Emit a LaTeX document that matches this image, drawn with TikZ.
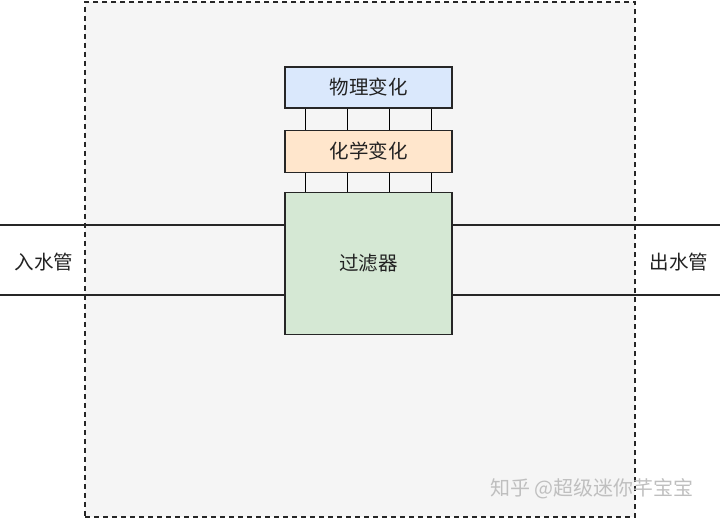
\documentclass[tikz,border=0pt]{standalone}
\usepackage{fontspec}
\setmainfont{Noto Sans CJK SC}
\usetikzlibrary{calc,positioning}

\definecolor{framefill}{HTML}{F5F5F5}
\definecolor{physfill}{HTML}{DAE8FC}
\definecolor{chemfill}{HTML}{FFE6CC}
\definecolor{filtfill}{HTML}{D5E8D4}
\definecolor{inktext}{HTML}{222222}

\begin{document}
\begin{tikzpicture}[
    x=1pt, y=1pt,
    line width=1.3pt,
    box/.style={draw=black!85, fill=#1, minimum width=167pt, inner sep=0pt, font=\fontsize{19.5}{22}\selectfont, text=inktext},
    pipe/.style={draw=black!85},
    label/.style={font=\fontsize{19.5}{22}\selectfont, text=inktext}
  ]
    \useasboundingbox (0,0) rectangle (720,-519);

    % Dashed enclosure
    \node[draw=black!85, dashed, dash pattern=on 5pt off 4pt, fill=framefill,
          minimum width=550pt, minimum height=515pt] (frame) at (360,-259.5) {};

    % Stacked layers
    \node[box=physfill, minimum height=41pt] (phys) at (368.5,-87.5) {物理变化};
    \node[box=chemfill, minimum height=42pt, below=21pt of phys] (chem) {化学变化};
    \node[box=filtfill, minimum height=142pt, below=19pt of chem] (filt) {过滤器};

    % Ties between layers
    \foreach \f in {0.125,0.375,0.625,0.875} {
      \draw ($(phys.south west)!\f!(phys.south east)$) -- ($(chem.north west)!\f!(chem.north east)$);
      \draw ($(chem.south west)!\f!(chem.north east |- chem.south)$) -- ($(filt.north west)!\f!(filt.north east)$);
    }

    % Pipes
    \coordinate (inTop) at (0,-225);
    \coordinate (inBot) at (0,-295);
    \coordinate (outTop) at (720,-225);
    \coordinate (outBot) at (720,-295);
    \draw[pipe] (inTop) -- (inTop -| filt.west);
    \draw[pipe] (inBot) -- (inBot -| filt.west);
    \draw[pipe] (filt.east |- outTop) -- (outTop);
    \draw[pipe] (filt.east |- outBot) -- (outBot);

    \node[label] (inlet) at (44,-262) {入水管};
    \node[label] (outlet) at (679,-262) {出水管};

    % Watermark
    \node[font=\fontsize{20}{23}\selectfont, text=black!25] (mark) at (592,-489) {知乎 @超级迷你芊宝宝};
  \end{tikzpicture}
\end{document}
